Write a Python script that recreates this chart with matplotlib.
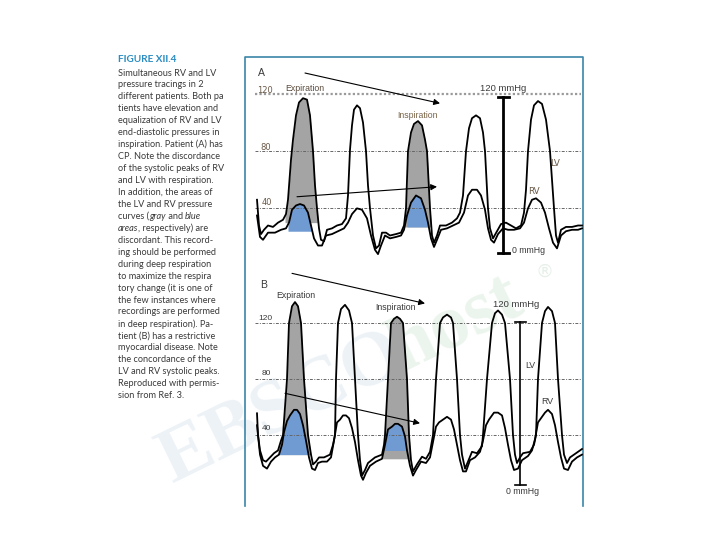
import numpy as np
import matplotlib
matplotlib.use("Agg")
import matplotlib.pyplot as plt

# ---- caption column (italic words between underscores) ----
FIGURE_LABEL = "FIGURE XII.4"
CAPTION_LINES = [
    "Simultaneous RV and LV",
    "pressure tracings in 2",
    "different patients. Both pa",
    "tients have elevation and",
    "equalization of RV and LV",
    "end-diastolic pressures in",
    "inspiration. Patient (A) has",
    "CP. Note the discordance",
    "of the systolic peaks of RV",
    "and LV with respiration.",
    "In addition, the areas of",
    "the LV and RV pressure",
    "curves (_gray_ and _blue_",
    "_areas_, respectively) are",
    "discordant. This record-",
    "ing should be performed",
    "during deep respiration",
    "to maximize the respira",
    "tory change (it is one of",
    "the few instances where",
    "recordings are performed",
    "in deep respiration). Pa-",
    "tient (B) has a restrictive",
    "myocardial disease. Note",
    "the concordance of the",
    "LV and RV systolic peaks.",
    "Reproduced with permis-",
    "sion from Ref. 3.",
]

GRID_LEVELS = [120, 80, 40]

# ---- panel A (constrictive pericarditis), time in s, pressure in mmHg ----
A_lv_t = [0.02, 0.04, 0.06, 0.09, 0.13, 0.18, 0.23, 0.28, 0.31, 0.33,
          0.36, 0.38, 0.41, 0.44, 0.48, 0.52, 0.55, 0.58, 0.60, 0.62,
          0.64, 0.66, 0.69, 0.72, 0.77, 0.82, 0.87, 0.91, 0.93, 0.95,
          0.97, 0.99, 1.02, 1.05, 1.08, 1.11, 1.13, 1.15, 1.18, 1.21,
          1.24, 1.27, 1.31, 1.35, 1.41, 1.46, 1.49, 1.51, 1.53, 1.56,
          1.59, 1.63, 1.67, 1.70, 1.72, 1.75, 1.77, 1.79, 1.82, 1.85,
          1.91, 1.97, 2.02, 2.05, 2.08, 2.11, 2.14, 2.17, 2.21, 2.25,
          2.28, 2.30, 2.33, 2.35, 2.38, 2.42, 2.46, 2.51, 2.56, 2.61,
          2.66, 2.69, 2.71, 2.73, 2.76, 2.79, 2.83, 2.87, 2.91, 2.95,
          2.99, 3.01, 3.03, 3.06, 3.11, 3.17, 3.23, 3.27]
A_lv_p = [46, 28, 22, 25, 28, 27, 30, 32, 36, 46,
          74, 88, 105, 114, 117, 116, 105, 80, 56, 40,
          26, 18, 17, 25, 26, 28, 29, 33, 49, 81,
          98, 109, 112, 110, 100, 80, 56, 40, 21, 12,
          14, 23, 23, 21, 22, 23, 28, 40, 80, 93,
          99, 101, 98, 88, 80, 40, 21, 16, 21, 28,
          28, 30, 33, 37, 49, 80, 96, 103, 105, 103,
          93, 80, 40, 26, 19, 24, 29, 30, 28, 26,
          28, 37, 53, 80, 102, 112, 115, 113, 102, 80,
          40, 21, 16, 25, 27, 27, 28, 28]
A_rv_t = [0.02, 0.05, 0.08, 0.13, 0.20, 0.26, 0.31, 0.34, 0.37, 0.41,
          0.45, 0.49, 0.53, 0.56, 0.59, 0.63, 0.67, 0.71, 0.77, 0.83,
          0.89, 0.93, 0.97, 1.02, 1.07, 1.12, 1.16, 1.20, 1.23, 1.26,
          1.30, 1.35, 1.41, 1.46, 1.49, 1.52, 1.56, 1.61, 1.66, 1.70,
          1.73, 1.76, 1.79, 1.82, 1.86, 1.92, 1.98, 2.04, 2.09, 2.13,
          2.17, 2.22, 2.26, 2.30, 2.33, 2.36, 2.39, 2.43, 2.48, 2.53,
          2.59, 2.65, 2.69, 2.73, 2.77, 2.81, 2.86, 2.90, 2.94, 2.98,
          3.02, 3.06, 3.11, 3.17, 3.23, 3.27]
A_rv_p = [35, 20, 18, 23, 23, 25, 26, 30, 39, 42,
          43, 42, 37, 28, 19, 14, 14, 21, 22, 24,
          26, 30, 36, 40, 39, 33, 21, 11, 8, 14,
          21, 19, 20, 21, 25, 35, 44, 49, 47, 39,
          30, 19, 13, 18, 25, 26, 28, 30, 37, 49,
          53, 53, 49, 39, 26, 18, 16, 22, 26, 25,
          25, 26, 30, 40, 46, 47, 44, 37, 26, 16,
          12, 21, 24, 25, 25, 26]

# ---- panel B (restrictive myocardial disease) ----
B_lv_t = [0.02, 0.03, 0.05, 0.08, 0.11, 0.15, 0.19, 0.23, 0.26, 0.28,
          0.32, 0.34, 0.37, 0.40, 0.43, 0.46, 0.49, 0.53, 0.56, 0.58,
          0.61, 0.64, 0.69, 0.75, 0.78, 0.80, 0.81, 0.83, 0.86, 0.90,
          0.94, 0.97, 1.00, 1.03, 1.05, 1.07, 1.10, 1.13, 1.20, 1.27,
          1.29, 1.30, 1.33, 1.36, 1.39, 1.42, 1.45, 1.48, 1.52, 1.54,
          1.56, 1.58, 1.62, 1.67, 1.71, 1.75, 1.78, 1.81, 1.85, 1.88,
          1.92, 1.96, 1.98, 2.02, 2.05, 2.07, 2.10, 2.13, 2.17, 2.22,
          2.27, 2.28, 2.32, 2.37, 2.40, 2.43, 2.47, 2.50, 2.55, 2.58,
          2.60, 2.62, 2.65, 2.68, 2.75, 2.79, 2.81, 2.83, 2.87, 2.90,
          2.93, 2.97, 3.00, 3.03, 3.07, 3.09, 3.12, 3.15, 3.19, 3.23,
          3.27]
B_lv_p = [55.5, 40, 29, 22, 21, 24, 27, 29, 36, 40,
          80, 120, 132, 135, 132, 120, 80, 40, 26, 19,
          21, 24, 24, 26, 33, 40, 80, 120, 130, 133,
          129, 120, 80, 40, 22, 11, 15, 20, 24, 26,
          33, 40, 80, 120, 123, 124.5, 123, 120, 80, 40,
          22, 14, 19, 24.5, 23, 28, 40, 80, 120, 124,
          126, 124, 120, 80, 40, 26, 16, 21, 28, 27,
          32, 40, 80, 120, 127, 129, 126, 120, 80, 40,
          26, 20, 24, 27, 28, 33, 40, 80, 120, 128.5,
          131.5, 128.5, 120, 80, 40, 26, 20, 24, 26, 28,
          30]
B_rv_t = [0.02, 0.05, 0.08, 0.12, 0.16, 0.20, 0.24, 0.27, 0.29, 0.32,
          0.35, 0.39, 0.42, 0.45, 0.48, 0.51, 0.54, 0.57, 0.60, 0.63,
          0.67, 0.72, 0.76, 0.79, 0.82, 0.85, 0.88, 0.91, 0.94, 0.97,
          1.00, 1.03, 1.06, 1.08, 1.11, 1.15, 1.21, 1.27, 1.30, 1.33,
          1.37, 1.40, 1.43, 1.47, 1.50, 1.52, 1.55, 1.58, 1.61, 1.66,
          1.71, 1.75, 1.78, 1.81, 1.84, 1.88, 1.92, 1.96, 1.99, 2.02,
          2.05, 2.08, 2.11, 2.15, 2.20, 2.25, 2.28, 2.31, 2.34, 2.39,
          2.43, 2.47, 2.50, 2.53, 2.56, 2.59, 2.63, 2.67, 2.73, 2.77,
          2.80, 2.83, 2.86, 2.90, 2.93, 2.97, 3.00, 3.03, 3.06, 3.09,
          3.13, 3.17, 3.22, 3.27]
B_rv_p = [47, 26, 18, 16, 21, 24, 26, 33, 42, 50,
          54, 58, 58, 55, 47, 36, 24, 16, 15, 20,
          21, 21, 24, 36, 49, 51, 54, 54, 52, 45,
          35, 22, 11, 8, 13, 18, 21, 23, 33, 44,
          46, 48, 48, 46, 39, 29, 18, 11, 15, 21,
          20, 24, 35, 46, 49, 51, 53, 51, 44, 33,
          22, 14, 14, 22, 24, 28, 36, 47, 51, 56,
          56, 54, 45, 33, 22, 15, 16, 22, 25, 29,
          37, 49, 52, 56, 58, 55, 47, 35, 24, 16,
          15, 21, 24, 26]

# shaded areas: (start, end, floor)
A_gray = [(0.30, 0.66, 30), (1.48, 1.77, 27)]
A_blue = [(0.33, 0.58, 24), (1.52, 1.77, 27)]
B_gray = [(0.23, 0.58, 26), (1.27, 1.55, 23)]
B_blue = [(0.23, 0.52, 26), (1.29, 1.52, 29)]

GRAY = "#a4a4a4"
BLUE = "#6f9ad2"
FRAME = "#3b86a8"
TXT = "#3a3a3a"


def shade(ax, t, p, windows, color):
    t = np.asarray(t, float)
    p = np.asarray(p, float)
    for t0, t1, floor in windows:
        tt = np.linspace(t0, t1, 300)
        pp = np.interp(tt, t, p)
        ax.fill_between(tt, pp, floor, where=pp >= floor, interpolate=True,
                        color=color, lw=0, zorder=1)


def draw_panel(ax, lv_t, lv_p, rv_t, rv_p, gray, blue, top_dotted):
    ax.set_xlim(-0.10, 3.28)
    ax.set_facecolor("none")
    ax.axis("off")
    shade(ax, lv_t, lv_p, gray, GRAY)
    shade(ax, rv_t, rv_p, blue, BLUE)
    for lev in GRID_LEVELS:
        if lev == 120 and top_dotted:
            ax.plot([0.0, 3.26], [lev, lev], color="#9a9a9a", lw=1.6,
                    ls=(0, (1, 1)), zorder=2)
        else:
            ax.plot([0.0, 3.26], [lev, lev], color="#666666", lw=0.7,
                    ls=(0, (3, 1.5, 1, 1.5)), zorder=2)
    ax.plot(lv_t, lv_p, color="black", lw=1.3, zorder=4, solid_joinstyle="round")
    ax.plot(rv_t, rv_p, color="black", lw=1.3, zorder=4, solid_joinstyle="round")


def arrow(ax, start, tip):
    ax.annotate("", xy=tip, xytext=start,
                arrowprops=dict(arrowstyle="-|>", color="black", lw=0.8,
                                mutation_scale=9, shrinkA=0, shrinkB=0),
                zorder=5)


def scale_bar(ax, x, top, bottom, lw):
    ax.plot([x, x], [bottom, top], color="black", lw=lw, zorder=5)
    for y in (top, bottom):
        ax.plot([x - 0.055, x + 0.055], [y, y], color="black", lw=lw, zorder=5)


fig = plt.figure(figsize=(7.2, 5.4), dpi=100)
ax0 = fig.add_axes([0, 0, 1, 1])
ax0.set_xlim(0, 720)
ax0.set_ylim(540, 0)
ax0.axis("off")

# faint watermark
ax0.text(172, 484, "EBSCO", rotation=26, rotation_mode="anchor", fontsize=56,
         family="Liberation Serif", weight="bold", color="#edf2f7",
         ha="left", va="baseline", zorder=0)
ax0.text(402, 372, "host", rotation=26, rotation_mode="anchor", fontsize=56,
         family="Liberation Serif", weight="bold", color="#ebf5ed",
         ha="left", va="baseline", zorder=0)
ax0.text(545, 272, "\u00ae", fontsize=13, color="#e6f0e8", ha="center",
         va="center", zorder=0)

# frame around the tracings
ax0.plot([244.5, 244.5, 583, 583], [506, 57, 57, 506], color=FRAME, lw=1.2)

# caption
ax0.text(118, 60, FIGURE_LABEL, fontsize=7.2, weight="bold", color="#2a8cc2",
         family="Lato", ha="left", va="center")
for i, line in enumerate(CAPTION_LINES):
    y = 73 + 11.95 * i
    prev = None
    for k, part in enumerate(line.split("_")):
        if not part:
            continue
        style = "italic" if k % 2 else "normal"
        if prev is None:
            prev = ax0.text(118, y, part, fontsize=6.6, color=TXT, family="Lato",
                            style=style, ha="left", va="center")
        else:
            prev = ax0.annotate(part, xy=(1, 0), xycoords=prev, fontsize=6.6,
                                color=TXT, family="Lato", style=style,
                                ha="left", va="bottom")

# ---- panel A ----
axA = fig.add_axes([245 / 720, 1 - 280 / 540, 338 / 720, 223 / 540])
axA.set_ylim(-10.1, 145.8)
draw_panel(axA, A_lv_t, A_lv_p, A_rv_t, A_rv_p, A_gray, A_blue, True)
lab = dict(family="Liberation Sans", color=TXT)
axA.text(0.03, 134.6, "A", fontsize=7.5, ha="left", va="center", **lab)
axA.text(0.02, 122.7, "120", fontsize=6, ha="left", va="center", color="#6b5a48")
axA.text(0.05, 82.4, "80", fontsize=6, ha="left", va="center", color="#6b5a48")
axA.text(0.07, 43.9, "40", fontsize=6, ha="left", va="center", color="#6b5a48")
axA.text(0.30, 124.1, "Expiration", fontsize=6.3, ha="left", va="center",
         family="Liberation Sans", color="#5a4c3e")
axA.text(1.62, 105.2, "Inspiration", fontsize=6.3, ha="center", va="center",
         family="Liberation Sans", color="#7a6548")
arrow(axA, (0.50, 134.6), (1.85, 113.4))
arrow(axA, (0.42, 48.1), (1.82, 55.1))
scale_bar(axA, 2.48, 118, 8.5, 2.0)
axA.text(2.48, 124.1, "120 mmHg", fontsize=6.8, ha="center", va="center", **lab)
axA.text(2.57, 10.8, "0 mmHg", fontsize=6.3, ha="left", va="center", **lab)
axA.text(2.95, 71.5, "LV", fontsize=6.3, ha="left", va="center", color="#6b5a48")
axA.text(2.73, 51.6, "RV", fontsize=6.3, ha="left", va="center", color="#6b5a48")

# ---- panel B ----
axB = fig.add_axes([245 / 720, 1 - 505 / 540, 338 / 720, 235 / 540])
axB.set_ylim(-10, 157.9)
draw_panel(axB, B_lv_t, B_lv_p, B_rv_t, B_rv_p, B_gray, B_blue, False)
axB.text(0.05, 147, "B", fontsize=7.5, ha="left", va="center", **lab)
axB.text(0.03, 123.6, "120", fontsize=6, ha="left", va="center", **lab)
axB.text(0.07, 84.3, "80", fontsize=6, ha="left", va="center", **lab)
axB.text(0.07, 44.3, "40", fontsize=6, ha="left", va="center", **lab)
axB.text(0.41, 140, "Expiration", fontsize=6.3, ha="center", va="center", **lab)
axB.text(1.40, 131.4, "Inspiration", fontsize=6.3, ha="center", va="center", **lab)
arrow(axB, (0.37, 155.5), (1.70, 134))
arrow(axB, (0.30, 69.8), (1.65, 48.4))
scale_bar(axB, 2.65, 121, 4.3, 1.2)
axB.text(2.61, 132.9, "120 mmHg", fontsize=6.8, ha="center", va="center", **lab)
axB.text(2.67, 0, "0 mmHg", fontsize=6.3, ha="center", va="center", **lab)
axB.text(2.75, 90, "LV", fontsize=6.3, ha="center", va="center", **lab)
axB.text(2.92, 63.8, "RV", fontsize=6.3, ha="center", va="center", **lab)

fig.savefig("out.png", dpi=100)
